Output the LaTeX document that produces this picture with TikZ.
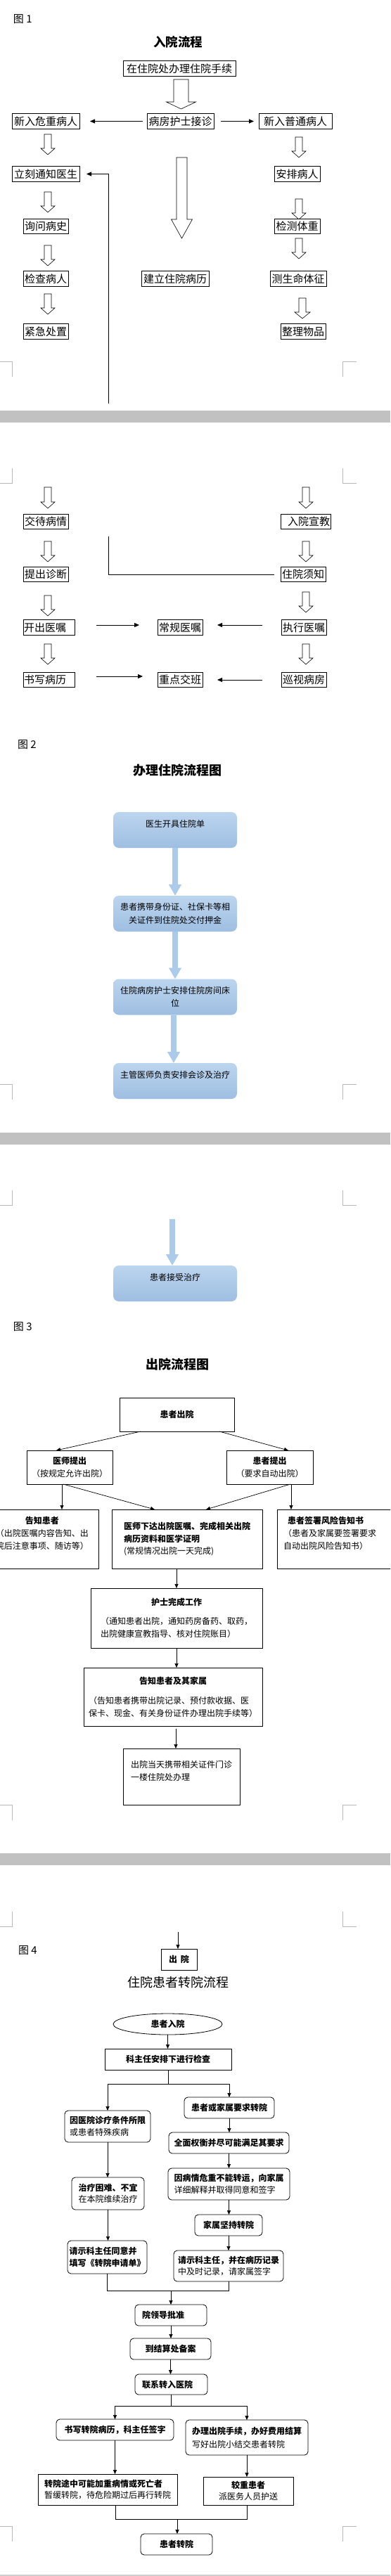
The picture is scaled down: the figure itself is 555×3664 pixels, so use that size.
\documentclass[tikz,border=0pt]{standalone}
\usepackage{fontspec}
\setmainfont{Noto Sans CJK SC}
\usetikzlibrary{arrows.meta,shapes.geometric}
\definecolor{bandgray}{RGB}{193,193,193}
\definecolor{markgray}{RGB}{185,185,185}
\definecolor{btop}{RGB}{188,213,239}
\definecolor{bbot}{RGB}{158,190,225}
\definecolor{barrow}{RGB}{172,202,234}
\newcommand\hollowarr[6]{%
  \draw[harrow] (#1-#4,#2) -- (#1+#4,#2) -- (#1+#4,#3-#6) -- (#1+#5,#3-#6) -- (#1,#3) -- (#1-#5,#3-#6) -- (#1-#4,#3-#6) -- cycle;}
\newcommand\markbot[1]{%
  \draw[markc] (0,#1) -- (17,#1) -- (17,#1+22);
  \draw[markc] (507,#1) -- (487,#1) -- (487,#1+22);}
\newcommand\marktop[1]{%
  \draw[markc] (17,#1-21) -- (17,#1) -- (0,#1);
  \draw[markc] (487,#1-21) -- (487,#1) -- (507,#1);}
\begin{document}
\begin{tikzpicture}[x=1pt,y=-1pt,
  every node/.style={inner sep=0pt, outer sep=0pt},
  fb/.style={draw, line width=0.8pt, minimum height=21.5pt, font=\fontsize{15}{18}\selectfont},
  harrow/.style={draw=black, line width=0.6pt, fill=white},
  arr/.style={line width=0.8pt, -{Triangle[length=7pt,width=6pt]}},
  arr3/.style={line width=0.7pt, -{Triangle[length=6pt,width=5pt]}},
  plain/.style={line width=0.7pt},
  markc/.style={draw=markgray, line width=0.8pt},
  lbl/.style={anchor=west, font=\fontsize{15}{18}\selectfont},
  ttl/.style={font=\bfseries\fontsize{18}{22}\selectfont},
  bbox/.style={rounded corners=8pt, top color=btop, bottom color=bbot, minimum width=176pt, minimum height=51pt, align=center, font=\fontsize{12}{18.5}\selectfont},
  bar/.style={draw=barrow, line width=8pt, -{Triangle[length=16pt,width=17pt]}},
  rbox/.style={draw, line width=0.8pt, font=\fontsize{12}{18}\selectfont},
  rr/.style={draw, line width=0.8pt, rounded corners=5pt, font=\fontsize{12}{16.5}\selectfont},
  sq/.style={draw, line width=0.8pt, font=\fontsize{12}{16.5}\selectfont}
]
\useasboundingbox (0,0) rectangle (555,3664);
\clip (0,0) rectangle (555,3664);
\fill[white] (0,0) rectangle (555,3664);

% ---------- page bands and marks ----------
\fill[bandgray] (0,584) rectangle (555,601);
\fill[bandgray] (0,1611) rectangle (555,1628);
\fill[bandgray] (0,2636) rectangle (555,2653);
\fill[bandgray!80] (0,3662) rectangle (555,3664);
\markbot{514}\markbot{1542}\markbot{2567}\markbot{3593}
\marktop{687}\marktop{1714}\marktop{2740}

% ================= Figure 1 =================
\node[lbl] (fig1) at (19,27.5) {图 1};
\node[font=\bfseries\fontsize{17.5}{20}\selectfont] (t1) at (253,60) {入院流程};

\node[fb, minimum width=160pt] (a0) at (255,97.5) {在住院处办理住院手续};
\node[fb, minimum width=95pt] (a1) at (256.5,172.5) {病房护士接诊};
\node[fb, minimum width=96pt] (aL) at (65,172.5) {新入危重病人};
\node[fb, minimum width=104pt] (aR) at (420,172.5) {新入普通病人};
\node[fb, minimum width=96pt] (L2) at (65,247.5) {立刻通知医生};
\node[fb, minimum width=65pt] (R2) at (422.5,247.5) {安排病人};
\node[fb, minimum width=64pt] (L3) at (65,322) {询问病史};
\node[fb, minimum width=65pt] (R3) at (422.5,322) {检测体重};
\node[fb, minimum width=64pt] (L4) at (65,396.5) {检查病人};
\node[fb, minimum width=96pt] (M4) at (249,396.5) {建立住院病历};
\node[fb, minimum width=80pt] (R4) at (424,396.5) {测生命体征};
\node[fb, minimum width=64pt] (L5) at (65,471.5) {紧急处置};
\node[fb, minimum width=64pt] (R5) at (431,471.5) {整理物品};

\node[fb, minimum width=64pt] (L6) at (65,742) {交待病情};
\node[fb, minimum width=71pt, text width=69pt, align=right] (R6) at (434.5,742) {入院宣教};
\node[fb, minimum width=64pt] (L7) at (65,817) {提出诊断};
\node[fb, minimum width=64pt] (R7) at (431,817) {住院须知};
\node[fb, minimum width=73pt, text width=71pt, align=left] (L8) at (69.5,892.5) {开出医嘱};
\node[fb, minimum width=64pt] (M8) at (256,892.5) {常规医嘱};
\node[fb, minimum width=64pt] (R8) at (432,892.5) {执行医嘱};
\node[fb, minimum width=73pt, text width=71pt, align=left] (L9) at (69.5,967) {书写病历};
\node[fb, minimum width=64pt] (M9) at (256,967) {重点交班};
\node[fb, minimum width=64pt] (R9) at (432,967) {巡视病房};

% hollow arrows
\hollowarr{257.5}{113}{155}{10.5}{21}{10}
\hollowarr{258.5}{224}{339}{7.5}{15}{27}
\hollowarr{68}{191}{220}{5}{10}{9}
\hollowarr{68}{273}{302}{5}{10}{9}
\hollowarr{68}{349}{378}{5}{10}{9}
\hollowarr{68}{418}{447}{5}{10}{9}
\hollowarr{425}{195}{224}{5}{10}{9}
\hollowarr{425}{283}{312}{5}{10}{9}
\hollowarr{425}{339}{368}{5}{10}{9}
\hollowarr{430}{424}{453}{5}{11}{9}
\hollowarr{68}{693}{723}{5}{10}{9}
\hollowarr{68}{770}{799}{5}{10}{9}
\hollowarr{68}{847}{876}{5}{10}{9}
\hollowarr{68}{916}{945}{5}{10}{9}
\hollowarr{435}{693}{723}{5}{10}{9}
\hollowarr{435}{770}{799}{5}{10}{9}
\hollowarr{435}{842}{871}{5}{10}{9}
\hollowarr{435}{916}{945}{5}{10}{9}

% line arrows
\draw[arr] ([xshift=-6pt]a1.west) -- ([xshift=15pt]aL.east);
\draw[arr] ([xshift=10pt]a1.east) -- ([xshift=-7pt]aR.west);
\coordinate (fbA) at (154,574);
\coordinate (fbB) at (154,763);
\draw[arr] (fbA) |- ([xshift=10pt]L2.east);
\draw[plain] (fbB) |- ([xshift=-9pt]R7.west);
\draw[arr] ([xshift=31pt,yshift=3.5pt]L8.east) -- ([xshift=-26pt,yshift=3.5pt]M8.west);
\draw[arr] ([xshift=-27pt,yshift=3.5pt]R8.west) -- ([xshift=21pt,yshift=3.5pt]M8.east);
\draw[arr] ([xshift=31pt,yshift=5pt]L9.east) -- ([xshift=-21pt,yshift=5pt]M9.west);
\draw[arr] ([xshift=-27pt]R9.west) -- ([xshift=21pt]M9.east);

% ================= Figure 2 =================
\node[lbl] (fig2) at (25,1059) {图 2};
\node[ttl] (t2) at (252,1096) {办理住院流程图};
\node[bbox] (b1) at (249,1180.5) {医生开具住院单\\~};
\node[bbox] (b2) at (249,1299.5) {患者携带身份证、社保卡等相\\关证件到住院处交付押金};
\node[bbox] (b3) at (249,1418) {住院病房护士安排住院房间床\\位};
\node[bbox] (b4) at (249,1537.5) {主管医师负责安排会诊及治疗\\~};
\node[bbox] (b5) at (249,1825.5) {患者接受治疗\\~};
\draw[bar] (b1.south) -- (b2.north);
\draw[bar] (b2.south) -- (b3.north);
\draw[bar] ([xshift=-2pt]b3.south) -- ([xshift=-2pt]b4.north);
\coordinate (bIn) at (245,1734);
\draw[bar] (bIn) -- (bIn |- b5.north);

% ================= Figure 3 =================
\node[lbl] (fig3) at (19,1887) {图 3};
\node[ttl] (t3) at (252.5,1941) {出院流程图};
\node[rbox, minimum width=163pt, minimum height=48pt, font=\bfseries\fontsize{12}{18}\selectfont] (c0) at (251.5,2012) {患者出院};
\node[rbox, minimum width=122pt, minimum height=48pt, align=center] (c1) at (99,2087) {\textbf{医师提出}\\（按规定允许出院）};
\node[rbox, minimum width=123pt, minimum height=48pt, align=center] (c2) at (383.5,2087) {\textbf{患者提出}\\（要求自动出院）};
\node[rbox, minimum width=160pt, minimum height=84pt, text width=132pt, align=center] (c3) at (60,2189) {\textbf{告知患者}\\（出院医嘱内容告知、出\\院后注意事项、随访等）\\~};
\node[rbox, minimum width=214pt, minimum height=84pt, align=left, font=\fontsize{12}{17.5}\selectfont] (c4) at (266,2189) {\textbf{医师下达出院医嘱、完成相关出院}\\\textbf{病历资料和医学证明}\\(常规情况出院一天完成)};
\node[rbox, minimum width=186pt, minimum height=84pt, text width=168pt, align=left] (c5) at (487,2189) {\hspace*{6pt}\textbf{患者签署风险告知书}\\（患者及家属要签署要求\\自动出院风险告知书）\\~};
\node[rbox, minimum width=244pt, minimum height=85pt, align=left] (c6) at (251,2301.5) {\makebox[216pt]{\textbf{护士完成工作}}\\[9pt]（通知患者出院，通知药房备药、取药，\\出院健康宣教指导、核对住院账目）};
\node[rbox, minimum width=254pt, minimum height=83pt, align=left] (c7) at (246,2413.5) {\makebox[240pt]{\textbf{告知患者及其家属}}\\[10pt]（告知患者携带出院记录、预付款收据、医\\保卡、现金、有关身份证件办理出院手续等）};
\node[rbox, minimum width=166pt, minimum height=80pt, align=left] (c8) at (258,2527) {出院当天携带相关证件门诊\\一楼住院处办理\\~};

\draw[arr3] ([xshift=-51.5pt]c0.south) -- ([xshift=-19pt]c1.north);
\draw[arr3] ([xshift=60.5pt]c0.south) -- ([xshift=26.5pt]c2.north);
\draw[arr3] ([xshift=-11pt]c1.south) -- ([xshift=-11pt]c1.south |- c3.north);
\draw[arr3] ([xshift=-9pt]c1.south) -- ([xshift=-46pt]c4.north);
\draw[arr3] ([xshift=29.5pt]c2.south) -- ([xshift=27pt]c4.north);
\draw[arr3] ([xshift=30.5pt]c2.south) -- ([xshift=30.5pt]c2.south |- c5.north);
\draw[arr3] ([xshift=-15pt]c4.south) -- ([xshift=-15pt]c4.south |- c6.north);
\draw[arr3] (c6.south) -- (c6.south |- c7.north);
\draw[arr3] ([xshift=4pt,yshift=-4pt]c7.south) -- ([xshift=4pt]c7.south |- c8.north);

% ================= Figure 4 =================
\node[lbl] (fig4) at (26,2774.5) {图 4};
\node[rbox, minimum width=51pt, minimum height=30pt, font=\bfseries\fontsize{12}{18}\selectfont] (e0) at (254.5,2787) {出\hspace{5pt}院};
\coordinate (e0in) at (253,2748);
\draw[arr3] (e0in) -- (e0in |- e0.north);
\node[font=\fontsize{18}{22}\selectfont] (t4) at (253,2820) {住院患者转院流程};

\node[ellipse, draw, line width=0.8pt, minimum width=155pt, minimum height=30pt, font=\bfseries\fontsize{12}{16}\selectfont] (d0) at (238.5,2879) {患者入院};
\node[sq, minimum width=180pt, minimum height=30pt, font=\bfseries\fontsize{12}{16}\selectfont] (d1) at (239,2929) {科主任安排下进行检查};
\node[rr, minimum width=122pt, minimum height=45pt, align=left] (d2) at (153,3024.5) {\textbf{因医院诊疗条件所限}\\或患者特殊疾病};
\node[rr, minimum width=128pt, minimum height=30pt, font=\bfseries\fontsize{12}{16}\selectfont] (d3) at (326,2998) {患者或家属要求转院};
\node[rr, minimum width=171pt, minimum height=30pt, font=\bfseries\fontsize{12}{16}\selectfont] (d4) at (325.5,3048) {全面权衡并尽可能满足其要求};
\node[rr, minimum width=173pt, minimum height=45pt, align=left] (d5) at (325.5,3106.5) {\textbf{因病情危重不能转运，向家属}\\详细解释并取得同意和签字};
\node[rr, minimum width=96pt, minimum height=30pt, font=\bfseries\fontsize{12}{16}\selectfont] (d6) at (325,3165) {家属坚持转院};
\node[rr, minimum width=156pt, minimum height=44pt, align=left] (d7) at (325,3223) {\textbf{请示科主任，并在病历记录}\\中及时记录，请家属签字};
\node[rr, minimum width=103pt, minimum height=46pt, align=left] (d8) at (153.5,3120) {\textbf{治疗困难、不宜}\\在本院维续治疗};
\node[rr, minimum width=113pt, minimum height=47pt, align=left] (d9) at (152.5,3210.5) {\textbf{请示科主任同意并}\\\textbf{填写《转院申请单》}};
\node[rr, minimum width=102pt, minimum height=30pt, inner xsep=10pt, text width=82pt, align=left, font=\bfseries\fontsize{12}{16}\selectfont] (d10) at (243,3293) {院领导批准};
\node[rr, minimum width=115pt, minimum height=30pt, font=\bfseries\fontsize{12}{16}\selectfont] (d11) at (242.5,3341) {到结算处备案};
\node[rr, minimum width=103pt, minimum height=29pt, inner xsep=10pt, text width=83pt, align=left, font=\bfseries\fontsize{12}{16}\selectfont] (d12) at (243.5,3391.5) {联系转入医院};
\node[rr, minimum width=167pt, minimum height=30pt, font=\bfseries\fontsize{12}{16}\selectfont] (d14) at (163.5,3456) {书写转院病历，科主任签字};
\node[rr, minimum width=174pt, minimum height=50pt, align=left, font=\fontsize{12}{19}\selectfont] (d15) at (351,3467) {\textbf{办理出院手续，办好费用结算}\\写好出院小结交患者转院};
\node[sq, minimum width=198pt, minimum height=44pt, align=left] (d16) at (153,3541) {\textbf{转院途中可能加重病情或死亡者}\\暂缓转院，待危险期过后再行转院};
\node[sq, minimum width=128pt, minimum height=40pt, align=center] (d17) at (353,3543) {\textbf{较重患者}\\派医务人员护送};
\node[rr, minimum width=102pt, minimum height=30pt, font=\bfseries\fontsize{12}{16}\selectfont] (d18) at (251,3619) {患者转院};

\draw[arr3] (d0.south) -- (d0.south |- d1.north);
\coordinate (s1) at (238,2964);
\draw[plain] (d1.south) -- (d1.south |- s1);
\draw[plain] (d2.north |- s1) -- (d3.north |- s1);
\draw[arr3] (d2.north |- s1) -- (d2.north);
\draw[arr3] (d3.north |- s1) -- (d3.north);
\draw[arr3] (d3.south) -- (d3.south |- d4.north);
\draw[arr3] (d4.south) -- (d4.south |- d5.north);
\draw[arr3] (d5.south) -- (d5.south |- d6.north);
\draw[arr3] (d6.south) -- (d6.south |- d7.north);
\draw[arr3] (d2.south) -- (d2.south |- d8.north);
\draw[arr3] (d8.south) -- (d8.south |- d9.north);
\coordinate (m1) at (243,3258);
\draw[plain] (d9.south) -- (d9.south |- m1) -- (d7.south |- m1) -- (d7.south);
\draw[arr3] (m1) -- (m1 |- d10.north);
\draw[arr3] (d10.south) -- (d10.south |- d11.north);
\draw[arr3] (d11.south) -- (d11.south |- d12.north);
\coordinate (s2) at (243,3422);
\draw[plain] (d12.south) -- (d12.south |- s2);
\draw[plain] (d14.north |- s2) -- (d15.north |- s2);
\draw[arr3] (d14.north |- s2) -- (d14.north);
\draw[arr3] (d15.north |- s2) -- (d15.north);
\draw[arr3] (d14.south) -- (d14.south |- d16.north);
\draw[arr3] (d15.south) -- (d15.south |- d17.north);
\coordinate (m2) at (252,3583);
\draw[plain] ([xshift=11pt]d16.south) -- ([xshift=11pt]d16.south |- m2) -- ([xshift=-2pt]d17.south |- m2) -- ([xshift=-2pt]d17.south);
\draw[arr3] (m2) -- (m2 |- d18.north);
\end{tikzpicture}
\end{document}
